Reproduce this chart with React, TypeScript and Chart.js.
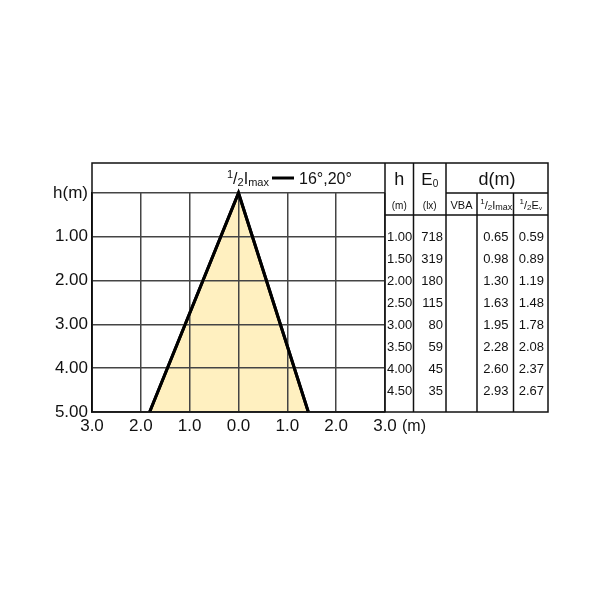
import React, { useEffect, useRef } from "react";
import { Chart, registerables } from "chart.js";

Chart.register(...registerables);

// ---- data ----
const coneX = [-1.82, 0, 1.43];
const coneY = [5, 0, 5];
const xTickValues = [-3, -2, -1, 0, 1, 2, 3];
const yTickValues = [0, 1, 2, 3, 4, 5];
const legendAngles = "16°,20°";
const heights = [1.0, 1.5, 2.0, 2.5, 3.0, 3.5, 4.0, 4.5];
const e0Values = [718, 319, 180, 115, 80, 59, 45, 35];
const vbaValues = ["", "", "", "", "", "", "", ""];
const halfImax = [0.65, 0.98, 1.3, 1.63, 1.95, 2.28, 2.6, 2.93];
const halfEv = [0.59, 0.89, 1.19, 1.48, 1.78, 2.08, 2.37, 2.67];

const FONT = '"Liberation Sans", Arial, Helvetica, sans-serif';
const font = (s: number) => `${s}px ${FONT}`;

type Run = { t: string; size: number; dy: number };

function drawRuns(ctx: CanvasRenderingContext2D, runs: Run[], x: number, baseline: number, align: "left" | "center" | "right") {
  let total = 0;
  const widths = runs.map((r) => {
    ctx.font = font(r.size);
    const w = ctx.measureText(r.t).width;
    total += w;
    return w;
  });
  let cx = align === "left" ? x : align === "center" ? x - total / 2 : x - total;
  ctx.textAlign = "left";
  ctx.textBaseline = "alphabetic";
  runs.forEach((r, i) => {
    ctx.font = font(r.size);
    ctx.fillText(r.t, cx, baseline + r.dy);
    cx += widths[i];
  });
}

const extrasPlugin = {
  id: "extras",
  afterDraw(chart: any) {
    const ctx: CanvasRenderingContext2D = chart.ctx;
    const { left, right, bottom } = chart.chartArea;
    const ys = chart.scales.y;
    const xs = chart.scales.x;
    const headTop = 163;
    const tRight = 548;
    const cols = [right, 413.5, 446, 477, 513.5, tRight];
    const subLine = ys.getPixelForValue(0);
    const headBottom = 215;

    const line = (x1: number, y1: number, x2: number, y2: number) => {
      ctx.beginPath();
      ctx.moveTo(x1, y1);
      ctx.lineTo(x2, y2);
      ctx.stroke();
    };

    ctx.save();
    // cone edges on top of the grid
    ctx.strokeStyle = "#000";
    ctx.lineWidth = 3;
    ctx.lineJoin = "miter";
    ctx.beginPath();
    coneX.forEach((x, i) => {
      const px = xs.getPixelForValue(x);
      const py = ys.getPixelForValue(coneY[i]);
      if (i === 0) ctx.moveTo(px, py);
      else ctx.lineTo(px, py);
    });
    ctx.stroke();

    ctx.strokeStyle = "#111";
    ctx.lineWidth = 1.5;
    ctx.strokeRect(left, headTop, tRight - left, bottom - headTop);

    // table lines
    line(cols[0], headTop, cols[0], bottom);
    line(cols[1], headTop, cols[1], bottom);
    line(cols[2], headTop, cols[2], bottom);
    line(cols[3], subLine, cols[3], bottom);
    line(cols[4], subLine, cols[4], bottom);
    line(cols[2], subLine, tRight, subLine);
    line(cols[0], headBottom, tRight, headBottom);

    ctx.fillStyle = "#111";
    // legend in header
    drawRuns(
      ctx,
      [
        { t: "1", size: 11, dy: -6 },
        { t: "/", size: 16, dy: 0 },
        { t: "2", size: 11, dy: 2 },
        { t: "I", size: 16, dy: 0 },
        { t: "max", size: 11, dy: 2 },
      ],
      227,
      184,
      "left"
    );
    ctx.lineWidth = 3;
    ctx.strokeStyle = "#000";
    line(272, 178, 294, 178);
    ctx.font = font(16);
    ctx.textAlign = "left";
    ctx.textBaseline = "alphabetic";
    ctx.fillText(legendAngles, 299, 184);

    // table header row 1
    ctx.font = font(18);
    ctx.textAlign = "center";
    ctx.fillText("h", (cols[0] + cols[1]) / 2, 185);
    drawRuns(ctx, [{ t: "E", size: 17, dy: 0 }, { t: "0", size: 10, dy: 2 }], (cols[1] + cols[2]) / 2, 185, "center");
    ctx.font = font(18);
    ctx.textAlign = "center";
    ctx.fillText("d(m)", (cols[2] + cols[5]) / 2, 185);

    // header row 2
    const r2 = 209;
    ctx.font = font(10);
    ctx.textAlign = "center";
    ctx.fillText("(m)", (cols[0] + cols[1]) / 2, r2);
    ctx.fillText("(lx)", (cols[1] + cols[2]) / 2, r2);
    ctx.font = font(11);
    ctx.fillText("VBA", (cols[2] + cols[3]) / 2, r2);
    drawRuns(
      ctx,
      [
        { t: "1", size: 8, dy: -5 },
        { t: "/", size: 11, dy: 0 },
        { t: "2", size: 8, dy: 1 },
        { t: "I", size: 11, dy: 0 },
        { t: "max", size: 9, dy: 1 },
      ],
      (cols[3] + cols[4]) / 2 + 1,
      r2,
      "center"
    );
    drawRuns(
      ctx,
      [
        { t: "1", size: 8, dy: -5 },
        { t: "/", size: 11, dy: 0 },
        { t: "2", size: 8, dy: 1 },
        { t: "E", size: 11, dy: 0 },
        { t: "v", size: 6, dy: 1 },
      ],
      (cols[4] + cols[5]) / 2,
      r2,
      "center"
    );

    // data rows
    ctx.font = font(13);
    ctx.textBaseline = "middle";
    heights.forEach((h, i) => {
      const y = ys.getPixelForValue(h) + 1;
      ctx.textAlign = "left";
      ctx.fillText(h.toFixed(2), cols[0] + 2, y);
      ctx.textAlign = "right";
      ctx.fillText(String(e0Values[i]), cols[2] - 3, y);
      ctx.textAlign = "center";
      ctx.fillText(vbaValues[i], (cols[2] + cols[3]) / 2, y);
      ctx.textAlign = "right";
      ctx.fillText(halfImax[i].toFixed(2), cols[4] - 5, y);
      ctx.fillText(halfEv[i].toFixed(2), cols[5] - 4, y);
    });

    // unit after last x tick
    ctx.font = font(16);
    ctx.textAlign = "left";
    ctx.textBaseline = "middle";
    const lastX = xs.getPixelForValue(xTickValues[xTickValues.length - 1]);
    ctx.fillText("(m)", lastX + 17, 427);
    ctx.restore();
  },
};

export default function App() {
  const ref = useRef<HTMLCanvasElement | null>(null);
  useEffect(() => {
    if (!ref.current) return;
    const points = coneX.map((x, i) => ({ x, y: coneY[i] }));
    const chart = new Chart(ref.current, {
      type: "scatter",
      data: {
        datasets: [
          {
            data: points,
            showLine: true,
            borderColor: "#000",
            borderWidth: 3,
            backgroundColor: "rgb(255, 240, 192)",
            fill: { value: 5 },
            pointRadius: 0,
            tension: 0,
            clip: 8,
          } as any,
        ],
      },
      options: {
        responsive: false,
        animation: false,
        devicePixelRatio: 1,
        layout: { padding: { left: 0, top: 193, right: 215, bottom: 158 } },
        plugins: { legend: { display: false }, tooltip: { enabled: false } },
        scales: {
          x: {
            type: "linear",
            min: -3,
            max: 3,
            afterBuildTicks: (s: any) => {
              s.ticks = xTickValues.map((v) => ({ value: v }));
            },
            afterFit: (s: any) => {
              s.height = 30;
            },
            ticks: {
              callback: (v: any) => Math.abs(Number(v)).toFixed(1),
              font: { family: FONT, size: 17 },
              color: "#111",
              padding: 4,
              maxRotation: 0,
              autoSkip: false,
            },
            grid: { color: "#444", lineWidth: 1.5, drawTicks: false, z: 1 } as any,
            border: { color: "#000", width: 1.5, z: 1 } as any,
          },
          y: {
            type: "linear",
            min: 0,
            max: 5,
            reverse: true,
            afterBuildTicks: (s: any) => {
              s.ticks = yTickValues.map((v) => ({ value: v }));
            },
            afterFit: (s: any) => {
              s.width = 92;
            },
            ticks: {
              callback: (v: any) => (Number(v) === 0 ? "h(m)" : Number(v).toFixed(2)),
              font: { family: FONT, size: 17 },
              color: "#111",
              padding: 4,
              autoSkip: false,
            },
            grid: { color: "#444", lineWidth: 1.5, drawTicks: false, z: 1 } as any,
            border: { color: "#000", width: 1.5, z: 1 } as any,
          },
        },
      },
      plugins: [extrasPlugin],
    });
    return () => chart.destroy();
  }, []);
  return (
    <div style={{ position: "absolute", left: 0, top: 0, width: 600, height: 600, background: "#fff" }}>
      <canvas ref={ref} width={600} height={600} />
    </div>
  );
}
